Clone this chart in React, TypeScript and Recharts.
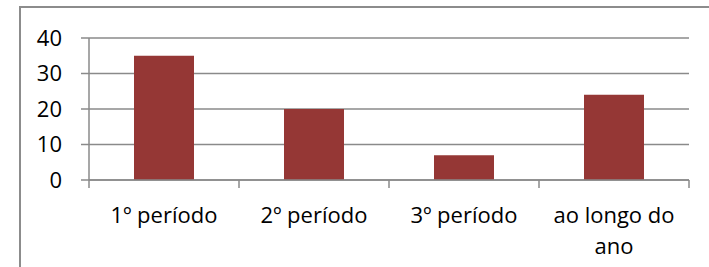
import { Bar, BarChart, CartesianGrid, XAxis, YAxis } from 'recharts'

const categories = ['1º período', '2º período', '3º período', 'ao longo do ano']
const values = [35, 20, 7, 24]
const yTicks = [0, 10, 20, 30, 40]

const data = categories.map((name, i) => ({ name, value: values[i] }))

const FONT = '"Open Sans", sans-serif'
const GRID = '#8a8a8a'
const TICK_SIZE = 8
const TICK_MARGIN = 19

// break long category names into lines of at most maxChars
function wrapLabel(label: string, maxChars = 12) {
  const lines: string[] = []
  let cur = ''
  for (const word of label.split(' ')) {
    const next = cur ? cur + ' ' + word : word
    if (next.length > maxChars && cur) {
      lines.push(cur)
      cur = word
    } else {
      cur = next
    }
  }
  if (cur) lines.push(cur)
  return lines
}

function CategoryTick(props: any) {
  const { x, y, payload, index, visibleTicksCount } = props
  const half = payload?.offset || 75
  const axisY = y - TICK_SIZE - TICK_MARGIN
  const isLast = index === visibleTicksCount - 1
  const lines = wrapLabel(String(payload.value))
  return (
    <g>
      <line x1={x - half} x2={x - half} y1={axisY} y2={axisY + TICK_SIZE} stroke={GRID} strokeWidth={1.5} />
      {isLast && (
        <line x1={x + half} x2={x + half} y1={axisY} y2={axisY + TICK_SIZE} stroke={GRID} strokeWidth={1.5} />
      )}
      <text x={x} y={y} textAnchor="middle" fontSize={22} fontFamily={FONT} fill="#000">
        {lines.map((line, i) => (
          <tspan key={i} x={x} dy={i === 0 ? '0.71em' : 31}>
            {line}
          </tspan>
        ))}
      </text>
    </g>
  )
}

export default function App() {
  return (
    <div style={{ position: 'absolute', left: 0, top: 0, width: 709, height: 267, overflow: 'hidden', background: '#fff' }}>
      <div
        style={{
          position: 'absolute',
          left: 19,
          top: 6,
          width: 800,
          height: 400,
          border: '2px solid #8c8c8c',
          boxSizing: 'border-box',
        }}
      />
      <div style={{ position: 'absolute', left: 0, top: 0 }}>
        <BarChart
          width={709}
          height={267}
          data={data}
          margin={{ top: 38, right: 20, left: 0, bottom: 27 }}
          barCategoryGap="30%"
        >
          <CartesianGrid vertical={false} stroke={GRID} strokeWidth={1.5} />
          <XAxis
            dataKey="name"
            height={60}
            tickSize={TICK_SIZE}
            tickMargin={TICK_MARGIN}
            tickLine={false}
            axisLine={{ stroke: GRID, strokeWidth: 1.5 }}
            tick={<CategoryTick />}
            interval={0}
          />
          <YAxis
            width={89}
            domain={[0, 40]}
            ticks={yTicks}
            tickSize={TICK_SIZE}
            tickMargin={TICK_MARGIN}
            tickLine={{ stroke: GRID, strokeWidth: 1.5 }}
            axisLine={{ stroke: GRID, strokeWidth: 1.5 }}
            tick={{ fontSize: 22, fontFamily: FONT, fill: '#000' }}
          />
          <Bar dataKey="value" fill="#953735" isAnimationActive={false} />
        </BarChart>
      </div>
    </div>
  )
}
